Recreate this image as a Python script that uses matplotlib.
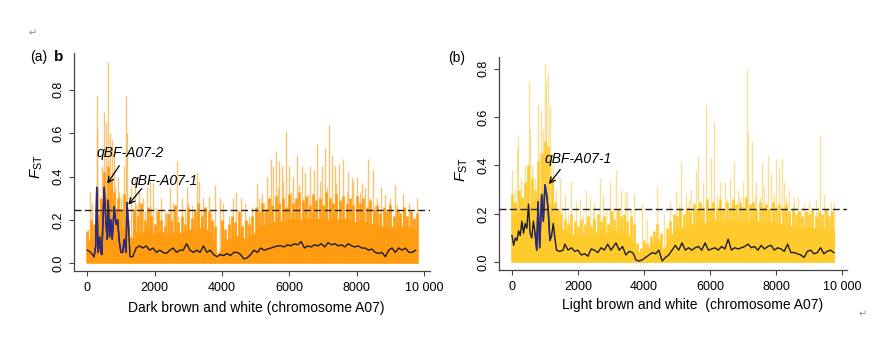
import numpy as np
import matplotlib
matplotlib.use("Agg")
import matplotlib.pyplot as plt

plt.rcParams["font.family"] = ["Liberation Sans", "DejaVu Sans"]
plt.rcParams["mathtext.fontset"] = "custom"
plt.rcParams["mathtext.rm"] = "Liberation Sans"
plt.rcParams["mathtext.it"] = "Liberation Sans:italic"

# ---- panel (a): dark brown vs white ----
a_body_x = [0, 200, 400, 600, 800, 1000, 1150, 1250, 1400, 1600, 1800, 2000, 2200, 2400,
            2600, 2800, 3000, 3200, 3400, 3600, 3780, 3880, 3960, 4100, 4300, 4500, 4700,
            4900, 5100, 5300, 5500, 5700, 5900, 6100, 6300, 6500, 6700, 6900, 7100, 7300,
            7500, 7700, 7900, 8100, 8300, 8500, 8700, 8900, 9100, 9300, 9500, 9800]
a_body_y = [0.10, 0.13, 0.27, 0.31, 0.27, 0.20, 0.10, 0.07, 0.15, 0.14, 0.16, 0.13, 0.15,
            0.13, 0.15, 0.14, 0.16, 0.15, 0.17, 0.15, 0.10, 0.02, 0.08, 0.11, 0.12, 0.13,
            0.11, 0.13, 0.17, 0.18, 0.19, 0.20, 0.19, 0.21, 0.20, 0.21, 0.20, 0.21, 0.20,
            0.21, 0.20, 0.21, 0.19, 0.20, 0.19, 0.18, 0.17, 0.17, 0.17, 0.17, 0.17, 0.16]
# dense streaks every 100 kb (0 ... 9800)
a_mid_x = list(range(0, 9801, 100))
a_mid_y = [0.15, 0.20, 0.18, 0.35, 0.30, 0.42, 0.45, 0.38, 0.33, 0.30, 0.25, 0.32, 0.20,
           0.12, 0.25, 0.22, 0.28, 0.20, 0.26, 0.22, 0.18, 0.24, 0.20, 0.17, 0.23, 0.20,
           0.27, 0.19, 0.22, 0.18, 0.26, 0.21, 0.24, 0.28, 0.22, 0.26, 0.24, 0.20, 0.17,
           0.05, 0.20, 0.16, 0.18, 0.22, 0.19, 0.24, 0.17, 0.20, 0.18, 0.22, 0.26, 0.24,
           0.28, 0.25, 0.30, 0.27, 0.31, 0.28, 0.30, 0.26, 0.32, 0.28, 0.30, 0.33, 0.29,
           0.31, 0.27, 0.32, 0.29, 0.30, 0.27, 0.33, 0.30, 0.28, 0.32, 0.29, 0.31, 0.28,
           0.30, 0.27, 0.31, 0.28, 0.30, 0.26, 0.29, 0.25, 0.27, 0.23, 0.26, 0.24, 0.27,
           0.22, 0.25, 0.23, 0.26, 0.22, 0.24, 0.21, 0.23]
a_spike_x = [30, 80, 150, 277, 290, 380, 450, 505, 560, 624, 670, 740, 800, 820, 900, 950,
             1010, 1080, 1139, 1180, 1300, 1350, 1416, 1450, 1500, 1550, 1650, 1700, 1762,
             1850, 1900, 1960, 2050, 2100, 2200, 2300, 2350, 2455, 2500, 2550, 2653, 2700,
             2800, 2900, 2950, 3000, 3100, 3180, 3247, 3330, 3380, 3450, 3520, 3600, 3680,
             3780, 3930, 4030, 4200, 4330, 4430, 4560, 4680, 4800, 4900, 5030, 5100, 5180,
             5250, 5330, 5446, 5520, 5604, 5650, 5700, 5770, 5800, 5901, 6000, 6050, 6120,
             6220, 6300, 6370, 6470, 6550, 6620, 6720, 6832, 6900, 6960, 7070, 7120, 7188,
             7260, 7350, 7400, 7480, 7600, 7700, 7750, 7850, 7900, 8020, 8100, 8150, 8250,
             8347, 8400, 8480, 8550, 8600, 8720, 8850, 8950, 9000, 9139, 9200, 9270, 9386,
             9450, 9560, 9680, 9782]
a_spike_y = [0.16, 0.33, 0.28, 0.77, 0.62, 0.30, 0.45, 0.70, 0.65, 0.93, 0.60, 0.57, 0.50,
             0.35, 0.40, 0.33, 0.30, 0.45, 0.77, 0.60, 0.35, 0.25, 0.40, 0.27, 0.28, 0.33,
             0.30, 0.24, 0.35, 0.38, 0.26, 0.37, 0.26, 0.22, 0.30, 0.25, 0.23, 0.35, 0.24,
             0.28, 0.47, 0.22, 0.30, 0.25, 0.35, 0.28, 0.27, 0.25, 0.42, 0.38, 0.24, 0.30,
             0.26, 0.31, 0.23, 0.36, 0.30, 0.28, 0.22, 0.30, 0.33, 0.30, 0.28, 0.22, 0.26,
             0.37, 0.30, 0.32, 0.28, 0.40, 0.48, 0.45, 0.52, 0.35, 0.47, 0.45, 0.38, 0.61,
             0.45, 0.33, 0.40, 0.50, 0.36, 0.45, 0.42, 0.32, 0.45, 0.43, 0.55, 0.38, 0.45,
             0.53, 0.35, 0.64, 0.50, 0.45, 0.37, 0.46, 0.48, 0.33, 0.42, 0.40, 0.38, 0.40,
             0.33, 0.37, 0.35, 0.48, 0.30, 0.43, 0.27, 0.30, 0.35, 0.32, 0.28, 0.30, 0.36,
             0.27, 0.25, 0.32, 0.26, 0.28, 0.20, 0.30]
a_smooth_x = [0, 100, 200, 250, 280, 320, 370, 400, 430, 500, 550, 590, 620, 660, 700,
              740, 800, 850, 900, 950, 1000, 1050, 1100, 1150, 1180, 1230, 1270, 1350,
              1450, 1550, 1650, 1750, 1850, 1950, 2050, 2150, 2250, 2350, 2450, 2550,
              2650, 2750, 2850, 2950, 3050, 3150, 3250, 3350, 3450, 3550, 3650, 3750,
              3850, 3950, 4050, 4150, 4250, 4350, 4450, 4550, 4650, 4750, 4850, 4950,
              5050, 5150, 5250, 5350, 5450, 5550, 5650, 5750, 5850, 5950, 6050, 6150,
              6250, 6350, 6450, 6550, 6650, 6750, 6850, 6950, 7050, 7150, 7250, 7350,
              7450, 7550, 7650, 7750, 7850, 7950, 8050, 8150, 8250, 8350, 8450, 8550,
              8650, 8750, 8850, 8950, 9050, 9150, 9250, 9350, 9450, 9550, 9650, 9750]
a_smooth_y = [0.06, 0.05, 0.03, 0.08, 0.35, 0.05, 0.12, 0.05, 0.04, 0.35, 0.20, 0.11,
              0.29, 0.12, 0.20, 0.11, 0.26, 0.18, 0.20, 0.10, 0.05, 0.05, 0.11, 0.05,
              0.28, 0.15, 0.03, 0.03, 0.07, 0.08, 0.07, 0.08, 0.06, 0.07, 0.05, 0.06,
              0.05, 0.045, 0.06, 0.07, 0.05, 0.06, 0.06, 0.09, 0.06, 0.05, 0.06, 0.05,
              0.08, 0.05, 0.06, 0.04, 0.03, 0.04, 0.035, 0.045, 0.035, 0.05, 0.05, 0.04,
              0.02, 0.025, 0.04, 0.06, 0.05, 0.07, 0.06, 0.065, 0.07, 0.075, 0.08, 0.08,
              0.075, 0.085, 0.08, 0.09, 0.085, 0.10, 0.07, 0.08, 0.075, 0.085, 0.08,
              0.09, 0.075, 0.095, 0.085, 0.09, 0.08, 0.085, 0.075, 0.09, 0.08, 0.075,
              0.08, 0.07, 0.07, 0.06, 0.065, 0.05, 0.045, 0.05, 0.03, 0.06, 0.07, 0.05,
              0.07, 0.06, 0.07, 0.05, 0.05, 0.06]
a_threshold = 0.247

# ---- panel (b): light brown vs white ----
b_body_x = [0, 200, 400, 600, 800, 1000, 1200, 1400, 1600, 1800, 2000, 2200, 2400, 2600,
            2800, 3000, 3200, 3400, 3600, 3750, 3900, 4100, 4300, 4450, 4550, 4700, 4900,
            5100, 5300, 5500, 5700, 5900, 6100, 6300, 6500, 6700, 6900, 7100, 7300, 7500,
            7700, 7900, 8100, 8300, 8500, 8700, 8900, 9100, 9300, 9500, 9770]
b_body_y = [0.19, 0.21, 0.23, 0.25, 0.27, 0.29, 0.22, 0.15, 0.13, 0.12, 0.11, 0.12, 0.11,
            0.13, 0.12, 0.14, 0.13, 0.12, 0.11, 0.05, 0.04, 0.06, 0.08, 0.10, 0.03, 0.09,
            0.13, 0.14, 0.15, 0.16, 0.17, 0.16, 0.18, 0.17, 0.18, 0.17, 0.18, 0.17, 0.18,
            0.17, 0.16, 0.17, 0.16, 0.16, 0.15, 0.14, 0.15, 0.14, 0.15, 0.14, 0.14]
b_mid_x = list(range(0, 9701, 100))
b_mid_y = [0.28, 0.25, 0.30, 0.27, 0.33, 0.40, 0.35, 0.30, 0.42, 0.45, 0.50, 0.48, 0.35,
           0.25, 0.22, 0.20, 0.18, 0.16, 0.20, 0.17, 0.15, 0.18, 0.16, 0.19, 0.15, 0.18,
           0.20, 0.17, 0.19, 0.16, 0.21, 0.18, 0.22, 0.19, 0.20, 0.17, 0.19, 0.16, 0.08,
           0.06, 0.09, 0.08, 0.11, 0.13, 0.16, 0.12, 0.06, 0.14, 0.17, 0.20, 0.19, 0.22,
           0.20, 0.23, 0.21, 0.24, 0.22, 0.25, 0.23, 0.26, 0.22, 0.25, 0.23, 0.26, 0.22,
           0.25, 0.23, 0.26, 0.24, 0.25, 0.23, 0.27, 0.24, 0.25, 0.22, 0.25, 0.23, 0.24,
           0.22, 0.25, 0.23, 0.24, 0.22, 0.24, 0.21, 0.22, 0.20, 0.21, 0.19, 0.21, 0.20,
           0.22, 0.19, 0.21, 0.20, 0.22, 0.19, 0.21]
b_spike_x = [10, 80, 150, 190, 280, 380, 450, 515, 560, 620, 690, 787, 840, 888, 940, 989,
             1040, 1090, 1140, 1190, 1241, 1340, 1443, 1500, 1600, 1700, 1796, 1950, 2050,
             2150, 2250, 2350, 2450, 2500, 2654, 2750, 2850, 2956, 3050, 3160, 3300, 3410,
             3490, 3600, 3710, 3944, 4100, 4400, 4600, 4800, 4975, 5050, 5130, 5280, 5350,
             5420, 5500, 5580, 5650, 5780, 5883, 5950, 6035, 6110, 6200, 6300, 6450, 6500,
             6600, 6740, 6850, 6900, 6990, 7050, 7113, 7163, 7264, 7350, 7400, 7500, 7567,
             7650, 7748, 7850, 7950, 8000, 8100, 8170, 8250, 8300, 8400, 8500, 8555, 8676,
             8750, 8850, 9000, 9100, 9200, 9339, 9450, 9550, 9680, 9770]
b_spike_y = [0.38, 0.30, 0.47, 0.52, 0.35, 0.40, 0.33, 0.75, 0.55, 0.40, 0.35, 0.66, 0.45,
             0.63, 0.55, 0.82, 0.75, 0.78, 0.65, 0.45, 0.40, 0.30, 0.35, 0.22, 0.28, 0.20,
             0.33, 0.25, 0.26, 0.20, 0.30, 0.27, 0.21, 0.25, 0.35, 0.28, 0.22, 0.33, 0.23,
             0.38, 0.30, 0.29, 0.29, 0.22, 0.28, 0.24, 0.18, 0.31, 0.20, 0.25, 0.29, 0.24,
             0.415, 0.285, 0.26, 0.30, 0.25, 0.38, 0.44, 0.33, 0.65, 0.27, 0.43, 0.58, 0.28,
             0.33, 0.33, 0.26, 0.35, 0.42, 0.30, 0.27, 0.33, 0.26, 0.80, 0.54, 0.50, 0.28,
             0.33, 0.27, 0.415, 0.32, 0.44, 0.37, 0.28, 0.425, 0.39, 0.43, 0.33, 0.27, 0.30,
             0.24, 0.27, 0.27, 0.22, 0.24, 0.25, 0.23, 0.26, 0.525, 0.28, 0.22, 0.25, 0.25]
b_smooth_x = [0, 50, 100, 150, 200, 250, 300, 350, 400, 450, 500, 550, 600, 650, 700, 750,
              790, 840, 900, 950, 1000, 1050, 1100, 1150, 1200, 1250, 1300, 1350, 1450,
              1550, 1600, 1700, 1800, 1900, 2000, 2100, 2200, 2300, 2400, 2500, 2600,
              2700, 2800, 2900, 3000, 3100, 3150, 3250, 3350, 3450, 3550, 3650, 3700,
              3750, 3850, 3950, 4050, 4150, 4250, 4350, 4450, 4550, 4650, 4750, 4850,
              4950, 5050, 5150, 5250, 5350, 5450, 5550, 5650, 5750, 5850, 5950, 6050,
              6150, 6250, 6350, 6450, 6550, 6650, 6750, 6850, 6950, 7050, 7150, 7250,
              7350, 7450, 7550, 7650, 7750, 7850, 7950, 8050, 8150, 8250, 8350, 8450,
              8550, 8650, 8750, 8850, 8950, 9050, 9150, 9250, 9350, 9450, 9550, 9650, 9750]
b_smooth_y = [0.11, 0.07, 0.10, 0.09, 0.13, 0.11, 0.17, 0.12, 0.16, 0.14, 0.24, 0.12,
              0.10, 0.17, 0.12, 0.05, 0.25, 0.06, 0.28, 0.17, 0.32, 0.28, 0.21, 0.09,
              0.11, 0.16, 0.10, 0.05, 0.045, 0.05, 0.075, 0.05, 0.06, 0.045, 0.05, 0.03,
              0.035, 0.025, 0.055, 0.05, 0.04, 0.06, 0.05, 0.075, 0.05, 0.07, 0.08, 0.05,
              0.065, 0.03, 0.045, 0.04, 0.03, 0.01, 0.005, 0.01, 0.02, 0.03, 0.04, 0.035,
              0.05, 0.005, 0.02, 0.03, 0.05, 0.07, 0.05, 0.08, 0.05, 0.06, 0.05, 0.06,
              0.065, 0.05, 0.08, 0.05, 0.055, 0.06, 0.05, 0.065, 0.055, 0.095, 0.05, 0.06,
              0.055, 0.06, 0.065, 0.075, 0.06, 0.065, 0.05, 0.07, 0.055, 0.065, 0.07,
              0.05, 0.06, 0.055, 0.045, 0.075, 0.04, 0.04, 0.035, 0.03, 0.02, 0.045, 0.05,
              0.035, 0.04, 0.06, 0.035, 0.045, 0.05, 0.04]
b_threshold = 0.22

xticks = [0, 2000, 4000, 6000, 8000, 10000]
xtick_labels = ["0", "2000", "4000", "6000", "8000", "10 000"]
yticks = [0.0, 0.2, 0.4, 0.6, 0.8]
ytick_labels = ["0.0", "0.2", "0.4", "0.6", "0.8"]

W, H = 895, 356
fig = plt.figure(figsize=(W / 100, H / 100), dpi=100)


def px_box(l, t, r, b):
    return [l / W, 1 - b / H, (r - l) / W, (b - t) / H]


def draw_panel(ax, body_x, body_y, mid_x, mid_y, spike_x, spike_y, sm_x, sm_y, thr,
               body_c, spike_c, hl, xlim, ylim):
    ax.vlines(spike_x, 0, spike_y, color=spike_c, lw=1.0, alpha=0.8, zorder=1)
    ax.vlines(mid_x, 0, mid_y, color=body_c, lw=1.9, zorder=2)
    ax.fill_between(body_x, 0, body_y, color=body_c, lw=0, zorder=3)
    sm_x = np.asarray(sm_x)
    sm_y = np.asarray(sm_y)
    ax.plot(sm_x, sm_y, color="#1c1c28", lw=1.0, zorder=4)
    m = (sm_x >= hl[0]) & (sm_x <= hl[1])
    ax.plot(sm_x[m], sm_y[m], color="#2a2a86", lw=1.1, zorder=5)
    ax.axhline(thr, color="#222222", lw=1.0, ls=(0, (5, 2.5)), zorder=6)
    ax.set_xlim(*xlim)
    ax.set_ylim(*ylim)
    for s in ["top", "right"]:
        ax.spines[s].set_visible(False)
    for s in ["left", "bottom"]:
        ax.spines[s].set_color("#444444")
        ax.spines[s].set_linewidth(0.9)
    ax.set_xticks(xticks)
    ax.set_xticklabels(xtick_labels, fontsize=9)
    ax.set_yticks(yticks)
    ax.set_yticklabels(ytick_labels, fontsize=9, rotation=90, va="center")
    ax.tick_params(axis="both", direction="out", length=3.6, width=0.8, color="#444444")
    ax.tick_params(axis="x", pad=4)
    ax.tick_params(axis="y", pad=3)
    ax.set_facecolor("none")


ax1 = fig.add_axes(px_box(74, 53, 430, 271))
draw_panel(ax1, a_body_x, a_body_y, a_mid_x, a_mid_y, a_spike_x, a_spike_y,
           a_smooth_x, a_smooth_y, a_threshold, "#ff9c12", "#f6b452",
           (200, 1250), (-395, 10178), (-0.036, 0.97))

ax2 = fig.add_axes(px_box(499, 57, 847, 270))
draw_panel(ax2, b_body_x, b_body_y, b_mid_x, b_mid_y, b_spike_x, b_spike_y,
           b_smooth_x, b_smooth_y, b_threshold, "#ffca2c", "#f8d97a",
           (700, 1220), (-393, 10150), (-0.032, 0.848))

arrow = dict(arrowstyle="->", color="black", lw=0.9, shrinkA=0, shrinkB=0)
ax1.annotate("", xy=(594, 0.367), xytext=(950, 0.45), arrowprops=arrow, zorder=7)
ax1.text(1287, 0.51, "qBF-A07-2", fontsize=10, style="italic", ha="center", va="center",
         zorder=7)
ax1.annotate("", xy=(1218, 0.27), xytext=(1614, 0.344), arrowprops=arrow, zorder=7)
ax1.text(2277, 0.38, "qBF-A07-1", fontsize=10, style="italic", ha="center", va="center",
         zorder=7)
ax2.annotate("", xy=(1120, 0.323), xytext=(1463, 0.383), arrowprops=arrow, zorder=7)
ax2.text(2018, 0.425, "qBF-A07-1", fontsize=10, style="italic", ha="center", va="center",
         zorder=7)

# labels
fig.text(256 / W, 1 - 308 / H, "Dark brown and white (chromosome A07)", fontsize=10,
         ha="center", va="center")
fig.text(693 / W, 1 - 305 / H, "Light brown and white  (chromosome A07)", fontsize=10,
         ha="center", va="center")
fig.text(37 / W, 1 - 167 / H, r"$\mathit{F}_{\mathrm{ST}}$", fontsize=11, rotation=90,
         ha="center", va="center")
fig.text(462 / W, 1 - 170 / H, r"$\mathit{F}_{\mathrm{ST}}$", fontsize=11, rotation=90,
         ha="center", va="center")
fig.text(39 / W, 1 - 57 / H, "(a)", fontsize=10, ha="center", va="center")
fig.text(59 / W, 1 - 57 / H, "b", fontsize=11, fontweight="bold", ha="center", va="center")
fig.text(457 / W, 1 - 58 / H, "(b)", fontsize=10, ha="center", va="center")
fig.text(33 / W, 1 - 33 / H, "\u21b5", fontsize=7, color="#888888", ha="center",
         va="center", family=["DejaVu Sans"])
fig.text(863 / W, 1 - 314 / H, "\u21b5", fontsize=7, color="#888888", ha="center",
         va="center", family=["DejaVu Sans"])

fig.savefig("out.png", dpi=100)
